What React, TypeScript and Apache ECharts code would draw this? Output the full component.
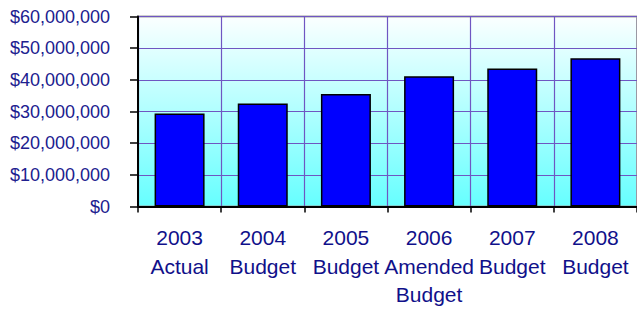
import React, { useEffect, useRef } from "react";
import * as echarts from "echarts";

const categories = [
  "2003\nActual",
  "2004\nBudget",
  "2005\nBudget",
  "2006\nAmended\nBudget",
  "2007\nBudget",
  "2008\nBudget",
];
const values = [29400000, 32500000, 35500000, 41100000, 43600000, 46800000];
const yMin = 0;
const yMax = 60000000;
const yInterval = 10000000;

function fmt(v: number) {
  return "$" + v.toLocaleString("en-US");
}

export default function App() {
  const ref = useRef<HTMLDivElement>(null);
  useEffect(() => {
    if (!ref.current) return;
    const chart = echarts.init(ref.current, undefined, { renderer: "svg" });
    chart.setOption({
      animation: false,
      grid: {
        left: 138,
        top: 16.5,
        width: 504,
        height: 190,
        show: true,
        borderColor: "#a0a0a0",
        borderWidth: 2,
        backgroundColor: {
          type: "linear",
          x: 0,
          y: 0,
          x2: 0,
          y2: 1,
          colorStops: [
            { offset: 0, color: "#fbffff" },
            { offset: 1, color: "#66ffff" },
          ],
        },
      },
      xAxis: {
        type: "category",
        data: categories,
        boundaryGap: true,
        axisLine: { show: true, lineStyle: { color: "#000000", width: 2 } },
        axisTick: { show: true, length: 6, lineStyle: { color: "#000000", width: 1.5 } },
        splitLine: { show: true, lineStyle: { color: "#6f56c2", width: 1.2 } },
        axisLabel: {
          interval: 0,
          margin: 17,
          color: "#10108a",
          fontFamily: "Liberation Sans, Arial, sans-serif",
          fontSize: 21,
          lineHeight: 28.5,
        },
      },
      yAxis: {
        type: "value",
        min: yMin,
        max: yMax,
        interval: yInterval,
        axisLine: { show: true, lineStyle: { color: "#000000", width: 2 } },
        axisTick: { show: true, length: 8, lineStyle: { color: "#000000", width: 1.5 } },
        splitLine: { show: true, lineStyle: { color: "#6f56c2", width: 1.2 } },
        axisLabel: {
          margin: 28,
          color: "#20208f",
          fontFamily: "Liberation Sans, Arial, sans-serif",
          fontSize: 18,
          padding: [0, 0, 6, 0],
          formatter: (v: number) => fmt(v),
        },
      },
      series: [
        {
          type: "bar",
          data: values,
          barWidth: 50,
          itemStyle: { color: "#0000ff", borderColor: "#000000", borderWidth: 1.5 },
        },
      ],
    });
    return () => chart.dispose();
  }, []);
  return (
    <div
      ref={ref}
      style={{ position: "absolute", left: 0, top: 0, width: 637, height: 310, background: "#ffffff" }}
    />
  );
}
